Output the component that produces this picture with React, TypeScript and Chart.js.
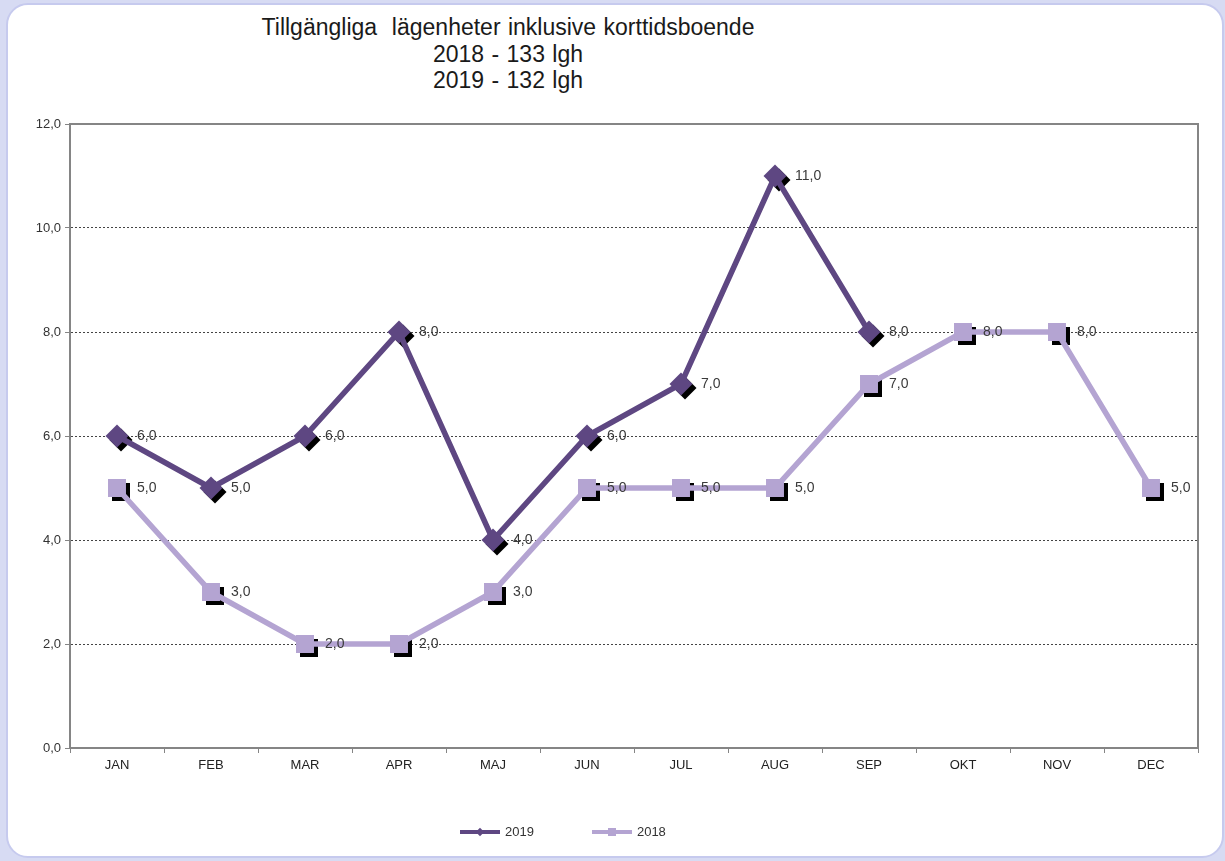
import React, { useEffect, useRef } from "react";
import { Chart, registerables } from "chart.js";

Chart.register(...registerables);

const categories = ["JAN", "FEB", "MAR", "APR", "MAJ", "JUN", "JUL", "AUG", "SEP", "OKT", "NOV", "DEC"];
const values2019: (number | null)[] = [6, 5, 6, 8, 4, 6, 7, 11, 8, null, null, null];
const values2018: (number | null)[] = [5, 3, 2, 2, 3, 5, 5, 5, 7, 8, 8, 5];
const titleLines = ["Tillgängliga  lägenheter inklusive korttidsboende", "2018 - 133 lgh", "2019 - 132 lgh"];
const seriesNames = ["2019", "2018"];

const DARK = "#5e4782";
const LIGHT = "#b4a4d2";
const FONT = "'Liberation Sans', Arial, sans-serif";

function fmt(v: number) {
  return v.toFixed(1).replace(".", ",");
}

function shapePath(ctx: CanvasRenderingContext2D, style: string, x: number, y: number) {
  ctx.beginPath();
  if (style === "rectRot") {
    const r = 11.5;
    ctx.moveTo(x, y - r);
    ctx.lineTo(x + r, y);
    ctx.lineTo(x, y + r);
    ctx.lineTo(x - r, y);
    ctx.closePath();
  } else {
    const s = 9;
    ctx.rect(x - s, y - s, 2 * s, 2 * s);
  }
}

const shadowPlugin = {
  id: "shadowMarkers",
  beforeDatasetsDraw(chart: any) {
    const ctx = chart.ctx;
    ctx.save();
    ctx.fillStyle = "#000";
    chart.data.datasets.forEach((ds: any, i: number) => {
      const meta = chart.getDatasetMeta(i);
      meta.data.forEach((pt: any, j: number) => {
        if (ds.data[j] == null) return;
        shapePath(ctx, ds.pointStyle, pt.x + 4, pt.y + 4);
        ctx.fill();
      });
    });
    ctx.restore();
  },
};

const labelPlugin = {
  id: "valueLabels",
  afterDatasetsDraw(chart: any) {
    const ctx = chart.ctx;
    ctx.save();
    ctx.font = `14px ${FONT}`;
    ctx.fillStyle = "#3a3a3a";
    ctx.textBaseline = "middle";
    ctx.textAlign = "left";
    chart.data.datasets.forEach((ds: any, i: number) => {
      const meta = chart.getDatasetMeta(i);
      meta.data.forEach((pt: any, j: number) => {
        const v = ds.data[j];
        if (v == null) return;
        ctx.fillText(fmt(v), pt.x + 20, pt.y);
      });
    });
    ctx.restore();
  },
};

const borderPlugin = {
  id: "plotBorder",
  afterDraw(chart: any) {
    const { ctx, chartArea } = chart;
    ctx.save();
    ctx.strokeStyle = "#858585";
    ctx.lineWidth = 2;
    ctx.strokeRect(chartArea.left, chartArea.top, chartArea.right - chartArea.left, chartArea.bottom - chartArea.top);
    ctx.restore();
  },
};

function LegendIcon({ color, square }: { color: string; square: boolean }) {
  return (
    <span style={{ position: "relative", display: "inline-block", width: 40, height: 10, marginRight: 5, verticalAlign: "middle" }}>
      <span style={{ position: "absolute", left: 0, top: 3, width: 40, height: 4, background: color }} />
      {square ? (
        <span style={{ position: "absolute", left: 16, top: 1, width: 8, height: 8, background: color }} />
      ) : (
        <span style={{ position: "absolute", left: 17, top: 2, width: 6, height: 6, background: color, transform: "rotate(45deg)" }} />
      )}
    </span>
  );
}

export default function App() {
  const ref = useRef<HTMLCanvasElement | null>(null);

  useEffect(() => {
    if (!ref.current) return;
    const chart = new Chart(ref.current, {
      type: "line",
      data: {
        labels: categories,
        datasets: [
          {
            label: seriesNames[0],
            data: values2019,
            borderColor: DARK,
            backgroundColor: DARK,
            borderWidth: 5.5,
            pointStyle: "rectRot",
            pointRadius: 11.5,
            pointHoverRadius: 11.5,
            pointBorderWidth: 0,
            pointBackgroundColor: DARK,
            tension: 0,
            spanGaps: false,
          },
          {
            label: seriesNames[1],
            data: values2018,
            borderColor: LIGHT,
            backgroundColor: LIGHT,
            borderWidth: 5.5,
            pointStyle: "rect",
            pointRadius: 12.7,
            pointHoverRadius: 12.7,
            pointBorderWidth: 0,
            pointBackgroundColor: LIGHT,
            tension: 0,
          },
        ],
      },
      options: {
        animation: false,
        responsive: false,
        events: [],
        layout: { padding: { left: 0, top: 124, right: 27, bottom: 83 } },
        plugins: {
          legend: { display: false },
          title: { display: false },
          tooltip: { enabled: false },
        },
        scales: {
          x: {
            offset: true,
            afterFit: (s: any) => {
              s.height = 30;
            },
            grid: {
              offset: true,
              drawOnChartArea: false,
              drawTicks: true,
              tickLength: 5,
              color: "#858585",
              lineWidth: 1,
            },
            border: { display: true, color: "#858585", width: 2 },
            ticks: { color: "#222", font: { family: FONT, size: 13 }, padding: 5, maxRotation: 0 },
          },
          y: {
            min: 0,
            max: 12,
            afterFit: (s: any) => {
              s.width = 70;
            },
            ticks: {
              stepSize: 2,
              color: "#333",
              font: { family: FONT, size: 13 },
              padding: 4,
              callback: (v: any) => fmt(Number(v)),
            },
            grid: {
              color: "#444",
              lineWidth: 1,
              drawTicks: true,
              tickLength: 5,
              tickColor: "#858585",
              tickBorderDash: [],
            },
            border: { display: true, color: "#858585", width: 2, dash: [2, 2] },
          },
        },
      } as any,
      plugins: [shadowPlugin, labelPlugin, borderPlugin],
    });
    return () => chart.destroy();
  }, []);

  return (
    <div style={{ position: "absolute", left: 0, top: 0, width: 1225, height: 861, background: "#d7dbf3", overflow: "hidden" }}>
      <div
        style={{
          position: "absolute",
          left: 6,
          top: 3,
          width: 1214,
          height: 851,
          background: "#fff",
          border: "2px solid #c6caee",
          borderRadius: 22,
        }}
      />
      <div
        style={{
          position: "absolute",
          left: 158,
          top: 14,
          width: 700,
          textAlign: "center",
          fontFamily: FONT,
          fontSize: 23,
          lineHeight: "26.5px",
          color: "#1a1a1a",
          wordSpacing: 1,
        }}
      >
        {titleLines.map((t, i) => (
          <div key={i} style={{ whiteSpace: "pre" }}>{t}</div>
        ))}
      </div>
      <canvas ref={ref} width={1225} height={861} style={{ position: "absolute", left: 0, top: 0, width: 1225, height: 861 }} />
      <div
        style={{
          position: "absolute",
          left: 460,
          top: 823,
          fontFamily: FONT,
          fontSize: 13,
          color: "#333",
          whiteSpace: "nowrap",
          lineHeight: "16px",
        }}
      >
        <LegendIcon color={DARK} square={false} />
        <span style={{ verticalAlign: "middle" }}>{seriesNames[0]}</span>
        <span style={{ display: "inline-block", width: 58 }} />
        <LegendIcon color={LIGHT} square={true} />
        <span style={{ verticalAlign: "middle" }}>{seriesNames[1]}</span>
      </div>
    </div>
  );
}
